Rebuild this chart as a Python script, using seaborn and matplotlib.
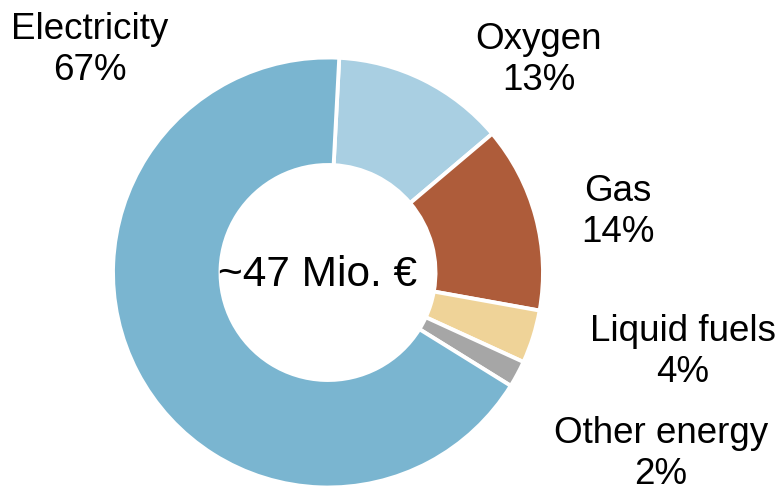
import matplotlib
matplotlib.use("Agg")
import matplotlib.pyplot as plt
import seaborn as sns

# Data (clockwise from top)
categories = ["Oxygen", "Gas", "Liquid fuels", "Other energy", "Electricity"]
shares = [13, 14, 4, 2, 67]
colors = ["#A9CFE2", "#AE5C3A", "#EFD398", "#A6A6A6", "#7AB5D0"]
center_label = "~47 Mio. €"

# Label anchor positions (data units, pie radius = 1)
label_pos = [(0.981, 0.988), (1.349, 0.281), (1.651, -0.370), (1.549, -0.844), (-1.107, 1.035)]
center_pos = (-0.047, -0.01)

sns.set_theme(style="white")
plt.rcParams["font.family"] = ["Liberation Sans", "DejaVu Sans"]

fig = plt.figure(figsize=(7.81, 4.88), dpi=100)
ax = fig.add_axes([0, 0, 1, 1])

palette = sns.color_palette(colors)
wedges, _ = ax.pie(shares, colors=palette, startangle=87, counterclock=False,
                   radius=1.0,
                   wedgeprops=dict(width=0.5, edgecolor="white", linewidth=2.8))

for cat, val, (x, y) in zip(categories, shares, label_pos):
    ax.text(x, y, f"{cat}\n{val}%", ha="center", va="center", fontsize=26.5,
            color="black", linespacing=1.2)

ax.text(center_pos[0], center_pos[1], center_label, ha="center", va="center",
        fontsize=30.5, color="black")

# map pie center to pixel (328, 272.5), radius 215 px
s = 215.0
ax.set_xlim(-328 / s, (781 - 328) / s)
ax.set_ylim(-(488 - 272.5) / s, 272.5 / s)
ax.set_aspect("equal")
ax.axis("off")

fig.savefig("out.png", dpi=100, facecolor="white")
